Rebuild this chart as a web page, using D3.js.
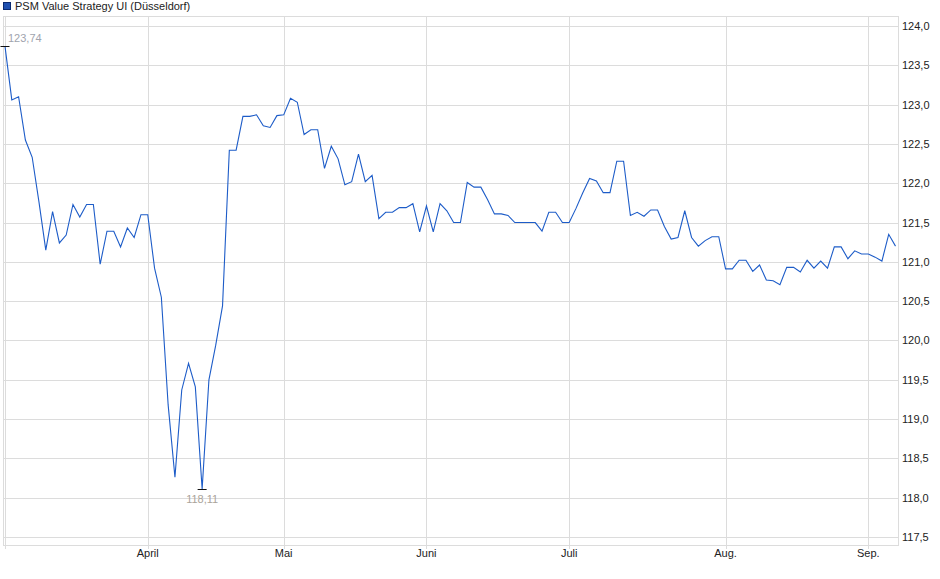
<!DOCTYPE html>
<html>
<head>
<meta charset="utf-8">
<script src="https://cdn.jsdelivr.net/npm/d3@7/dist/d3.min.js"></script>
<style>
  body { margin: 0; background: #fff; }
  svg { display: block; font-family: "Liberation Sans", Arial, sans-serif; }
</style>
</head>
<body>
<script>
const width = 940;
const height = 579;

const title = "PSM Value Strategy UI (Düsseldorf)";

// daily prices, one per trading day
const prices = [
  123.74, 123.06, 123.10, 122.55, 122.33, 121.76, 121.15, 121.64, 121.24, 121.34,
  121.73, 121.57, 121.73, 121.73, 120.97, 121.39, 121.39, 121.19, 121.43, 121.31,
  121.60, 121.60, 120.92, 120.55, 119.18, 118.26, 119.37, 119.71, 119.41, 118.11,
  119.50, 119.94, 120.44, 122.42, 122.42, 122.85, 122.85, 122.87, 122.73, 122.71,
  122.86, 122.87, 123.08, 123.03, 122.62, 122.68, 122.68, 122.19, 122.47, 122.31,
  121.98, 122.02, 122.37, 122.02, 122.10, 121.55, 121.63, 121.63, 121.69, 121.69,
  121.74, 121.38, 121.71, 121.38, 121.74, 121.65, 121.50, 121.50, 122.01, 121.95,
  121.95, 121.79, 121.61, 121.61, 121.59, 121.50, 121.50, 121.50, 121.50, 121.39,
  121.63, 121.63, 121.50, 121.50, 121.68, 121.88, 122.06, 122.03, 121.88, 121.88,
  122.28, 122.28, 121.59, 121.63, 121.58, 121.66, 121.66, 121.45, 121.29, 121.31,
  121.65, 121.31, 121.20, 121.27, 121.32, 121.32, 120.91, 120.91, 121.02, 121.02,
  120.88, 120.96, 120.77, 120.76, 120.71, 120.93, 120.93, 120.87, 121.02, 120.92,
  121.01, 120.92, 121.19, 121.19, 121.04, 121.14, 121.10, 121.10, 121.06, 121.01,
  121.35, 121.20
];

// first trading day of each month (index into prices)
const monthIdx = [0, 21, 41, 62, 83, 106, 127];
const monthLabels = ["", "April", "Mai", "Juni", "Juli", "Aug.", "Sep."];

const yTicks = [117.5, 118, 118.5, 119, 119.5, 120, 120.5, 121, 121.5, 122, 122.5, 123, 123.5, 124];

const frame = { left: 3, right: 898, top: 16, bottom: 545 };

const svg = d3.select("body")
  .append("svg")
  .attr("width", width)
  .attr("height", height);

const xScale = d3.scaleLinear()
  .domain([0, prices.length - 1])
  .range([5, 895.5]);

const yScale = d3.scaleLinear()
  .domain([117.5, 124])
  .range([537, 26]);

const fmt = v => d3.format(".1f")(v).replace(".", ",");
const fmt2 = v => d3.format(".2f")(v).replace(".", ",");

// legend / title
svg.append("rect")
  .attr("x", 3.5).attr("y", 2.5)
  .attr("width", 7).attr("height", 7)
  .attr("fill", "#1f50b0")
  .attr("stroke", "#0b2a70");

svg.append("text")
  .attr("x", 15).attr("y", 10)
  .attr("font-size", 11)
  .attr("fill", "#222")
  .text(title);

// horizontal gridlines
svg.append("g")
  .selectAll("line")
  .data(yTicks)
  .join("line")
  .attr("x1", frame.left).attr("x2", frame.right)
  .attr("y1", d => Math.round(yScale(d)) + 0.5)
  .attr("y2", d => Math.round(yScale(d)) + 0.5)
  .attr("stroke", "#dcdcdc");

// vertical gridlines
svg.append("g")
  .selectAll("line")
  .data(monthIdx)
  .join("line")
  .attr("x1", d => Math.round(xScale(d)) + 0.5)
  .attr("x2", d => Math.round(xScale(d)) + 0.5)
  .attr("y1", frame.top).attr("y2", frame.bottom + 4)
  .attr("stroke", "#dcdcdc");

// frame
svg.append("rect")
  .attr("x", frame.left + 0.5).attr("y", frame.top + 0.5)
  .attr("width", frame.right - frame.left)
  .attr("height", frame.bottom - frame.top)
  .attr("fill", "none")
  .attr("stroke", "#dcdcdc");

// y labels on the right
svg.append("g")
  .selectAll("text")
  .data(yTicks)
  .join("text")
  .attr("x", 902)
  .attr("y", d => yScale(d) + 4)
  .attr("font-size", 11)
  .attr("fill", "#222")
  .text(d => fmt(d));

// month labels
svg.append("g")
  .selectAll("text")
  .data(monthIdx.map((d, i) => ({ idx: d, label: monthLabels[i] })))
  .join("text")
  .attr("x", d => xScale(d.idx))
  .attr("y", 557)
  .attr("text-anchor", "middle")
  .attr("font-size", 11)
  .attr("fill", "#222")
  .text(d => d.label);

// price line
const line = d3.line()
  .x((d, i) => xScale(i))
  .y(d => yScale(d));

svg.append("path")
  .datum(prices)
  .attr("d", line)
  .attr("fill", "none")
  .attr("stroke", "#1d5cc8")
  .attr("stroke-width", 1.1);

// max / min markers
const maxI = d3.maxIndex(prices);
const minI = d3.minIndex(prices);

[maxI, minI].forEach(i => {
  svg.append("line")
    .attr("x1", xScale(i) - 4.5).attr("x2", xScale(i) + 4.5)
    .attr("y1", Math.round(yScale(prices[i])) + 0.5)
    .attr("y2", Math.round(yScale(prices[i])) + 0.5)
    .attr("stroke", "#111");
});

svg.append("text")
  .attr("x", xScale(maxI) + 3)
  .attr("y", yScale(prices[maxI]) - 4)
  .attr("font-size", 11)
  .attr("fill", "#a0a4ae")
  .text(fmt2(prices[maxI]));

svg.append("text")
  .attr("x", xScale(minI))
  .attr("y", yScale(prices[minI]) + 14)
  .attr("text-anchor", "middle")
  .attr("font-size", 11)
  .attr("fill", "#aaa39a")
  .text(fmt2(prices[minI]));
</script>
</body>
</html>
